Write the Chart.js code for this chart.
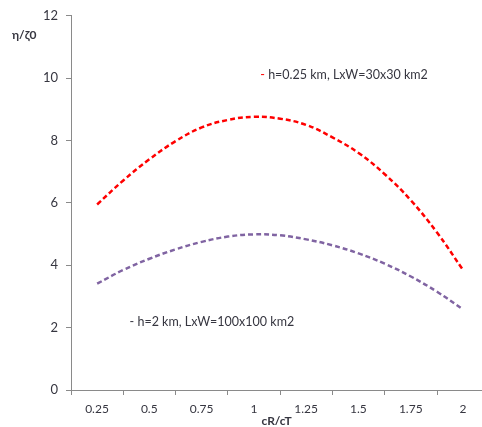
<!DOCTYPE html>
<html>
<head>
<meta charset="utf-8">
<script src="https://cdn.jsdelivr.net/npm/chart.js@4.4.1/dist/chart.umd.min.js"></script>
<style>
  html, body { margin: 0; padding: 0; background: #ffffff; overflow: hidden; }
  #wrap { width: 482px; height: 427px; }
</style>
</head>
<body>
<div id="wrap"><canvas id="c" width="482" height="427"></canvas></div>
<script>
// ---- data ----
const xValues = [0.25, 0.375, 0.5, 0.625, 0.75, 0.875, 1, 1.125, 1.25, 1.375, 1.5, 1.625, 1.75, 1.875, 2];
const redSeries = [5.95, 6.72, 7.4, 7.98, 8.42, 8.66, 8.76, 8.7, 8.5, 8.1, 7.6, 6.92, 6.08, 5.05, 3.84];
const purpleSeries = [3.41, 3.85, 4.21, 4.51, 4.75, 4.92, 4.99, 4.96, 4.83, 4.64, 4.38, 4.05, 3.64, 3.15, 2.58];
const xTickLabels = ['0.25', '0.5', '0.75', '1', '1.25', '1.5', '1.75', '2'];
const xTickMarks = [0.125, 0.375, 0.625, 0.875, 1.125, 1.375, 1.625, 1.875];
const yTickValues = [0, 2, 4, 6, 8, 10, 12];
const redLabel = 'h=0.25 km, LxW=30x30 km2';
const purpleLabel = 'h=2 km, LxW=100x100 km2';
const redLabelPos = { x: 1.03, y: 10.1 };
const purpleLabelPos = { x: 0.405, y: 2.18 };
const xTitle = 'cR/cT';
const yTitle = 'η/ζ0';

const FONT = 'Lato, "Open Sans", "Liberation Sans", sans-serif';
const TEXT = '#363640';
const AXIS = '#8a8a8a';

function toPoints(vals) { return xValues.map((x, i) => ({ x: x, y: vals[i] })); }

const annotate = {
  id: 'annotate',
  afterDraw(chart) {
    const ctx = chart.ctx;
    const xs = chart.scales.x, ys = chart.scales.y;
    const ca = chart.chartArea;
    ctx.save();
    ctx.textBaseline = 'middle';
    // series labels
    ctx.font = '12.5px ' + FONT;
    let px = xs.getPixelForValue(redLabelPos.x), py = ys.getPixelForValue(redLabelPos.y);
    ctx.fillStyle = '#ff0000';
    ctx.textAlign = 'left';
    ctx.fillText('-', px, py);
    ctx.fillStyle = TEXT;
    ctx.fillText(redLabel, px + ctx.measureText('- ').width, py);
    px = xs.getPixelForValue(purpleLabelPos.x); py = ys.getPixelForValue(purpleLabelPos.y);
    ctx.fillStyle = TEXT;
    ctx.fillText('- ' + purpleLabel, px, py);
    // axis titles
    ctx.font = 'bold 12px ' + FONT;
    ctx.fillStyle = TEXT;
    ctx.textAlign = 'center';
    ctx.fillText(xTitle, (ca.left + ca.right) / 2, ca.bottom + 31);
    ctx.textAlign = 'left';
    ctx.fillText(yTitle, ca.left - 59, ca.top + 19);
    ctx.restore();
  }
};

new Chart(document.getElementById('c'), {
  type: 'line',
  data: {
    datasets: [
      {
        label: redLabel,
        data: toPoints(redSeries),
        borderColor: '#ff0000',
        borderWidth: 2.5,
        borderDash: [5, 3],
        pointRadius: 0,
        tension: 0.4,
        fill: false
      },
      {
        label: purpleLabel,
        data: toPoints(purpleSeries),
        borderColor: '#8064a2',
        borderWidth: 2.5,
        borderDash: [5, 3],
        pointRadius: 0,
        tension: 0.4,
        fill: false
      }
    ]
  },
  options: {
    responsive: false,
    animation: false,
    layout: { padding: { top: 15, left: 0, right: 0, bottom: 0 } },
    plugins: { legend: { display: false }, tooltip: { enabled: false } },
    scales: {
      x: {
        type: 'linear',
        min: 0.125,
        max: 2.09,
        afterBuildTicks(scale) { scale.ticks = xTickMarks.map(v => ({ value: v })); },
        afterFit(scale) { scale.height = 37; },
        border: { display: true, color: AXIS, width: 1 },
        grid: { drawOnChartArea: false, drawTicks: true, tickLength: 5, color: AXIS },
        ticks: {
          autoSkip: false,
          maxRotation: 0,
          padding: 7,
          labelOffset: 26,
          color: TEXT,
          font: { family: FONT, size: 12 },
          callback(v, i) { return xTickLabels[i]; }
        }
      },
      y: {
        min: 0,
        max: 12,
        afterBuildTicks(scale) { scale.ticks = yTickValues.map(v => ({ value: v })); },
        afterFit(scale) { scale.width = 71; },
        border: { display: true, color: AXIS, width: 1 },
        grid: { drawOnChartArea: false, drawTicks: true, tickLength: 5, color: AXIS },
        ticks: {
          padding: 8,
          color: TEXT,
          font: { family: FONT, size: 13 }
        }
      }
    }
  },
  plugins: [annotate]
});
</script>
</body>
</html>
